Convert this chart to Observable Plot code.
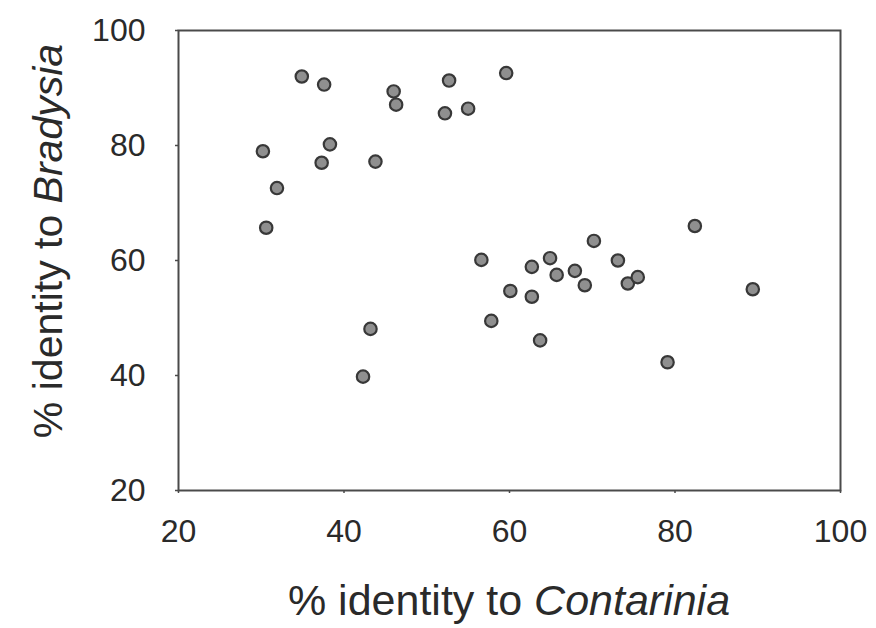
<!DOCTYPE html>
<html>
<head>
<meta charset="utf-8">
<script src="https://cdn.jsdelivr.net/npm/d3@7"></script>
<script src="https://cdn.jsdelivr.net/npm/@observablehq/plot@0.6"></script>
<style>
  html, body { margin: 0; padding: 0; background: #fff; }
  #chart svg { display: block; }
</style>
</head>
<body>
<div id="chart"></div>
<script>
// % identity to Contarinia (x) and to Bradysia (y), one entry per point
const contarinia = [34.9, 37.6, 46.0, 46.3, 52.7, 59.6, 52.2, 55.0, 30.2, 38.3, 37.3, 43.8, 31.9, 30.6,
  56.6, 82.4, 70.2, 64.9, 73.1, 62.7, 65.7, 67.9, 69.1, 74.3, 75.5, 60.1, 62.7, 89.4, 63.7, 79.1, 57.8, 43.2, 42.3];
const bradysia = [92.0, 90.6, 89.4, 87.1, 91.3, 92.6, 85.6, 86.4, 79.0, 80.2, 77.0, 77.2, 72.6, 65.7,
  60.1, 66.0, 63.4, 60.4, 60.0, 58.9, 57.5, 58.2, 55.7, 56.0, 57.1, 54.7, 53.7, 55.0, 46.1, 42.3, 49.5, 48.1, 39.8];
const xTicks = [20, 40, 60, 80, 100];
const yTicks = [20, 40, 60, 80, 100];
const xTitle = ["% identity to ", "Contarinia"];
const yTitle = ["% identity to ", "Bradysia"];

const data = contarinia.map((c, i) => ({c, b: bradysia[i]}));
const font = "'Liberation Sans', Arial, Helvetica, sans-serif";

const plot = Plot.plot({
  width: 876,
  height: 628,
  marginLeft: 178,
  marginRight: 36,
  marginTop: 30,
  marginBottom: 138,
  style: {fontFamily: font, color: "#2a2a2a", background: "#fff"},
  x: {domain: [20, 100]},
  y: {domain: [20, 100]},
  marks: [
    Plot.frame({stroke: "#4a4a4a", strokeWidth: 2}),
    Plot.axisX({ticks: xTicks, tickSize: 3, tickPadding: 26, fontSize: 32, label: null, stroke: "#4a4a4a", strokeWidth: 1.5}),
    Plot.axisY({ticks: yTicks, tickSize: 3, tickPadding: 30, fontSize: 32, label: null, stroke: "#4a4a4a", strokeWidth: 1.5}),
    Plot.dot(data, {x: "c", y: "b", r: 6.2, fill: "#8f8f8f", stroke: "#383838", strokeWidth: 2.2})
  ]
});
document.getElementById("chart").appendChild(plot);

// Axis titles with italic genus names
const sx = plot.scale("x");
const svg = d3.select(plot);
const cx = (sx.range[0] + sx.range[1]) / 2;
const tx = svg.append("text")
  .attr("x", cx).attr("y", 615)
  .attr("text-anchor", "middle")
  .attr("font-family", font).attr("font-size", 43).attr("fill", "#2a2a2a");
tx.append("tspan").text(xTitle[0]);
tx.append("tspan").attr("font-style", "italic").text(xTitle[1]);

const cy = 241;
const ty = svg.append("text")
  .attr("transform", `translate(62,${cy}) rotate(-90)`)
  .attr("text-anchor", "middle")
  .attr("font-family", font).attr("font-size", 41).attr("fill", "#2a2a2a");
ty.append("tspan").text(yTitle[0]);
ty.append("tspan").attr("font-style", "italic").text(yTitle[1]);
</script>
</body>
</html>
